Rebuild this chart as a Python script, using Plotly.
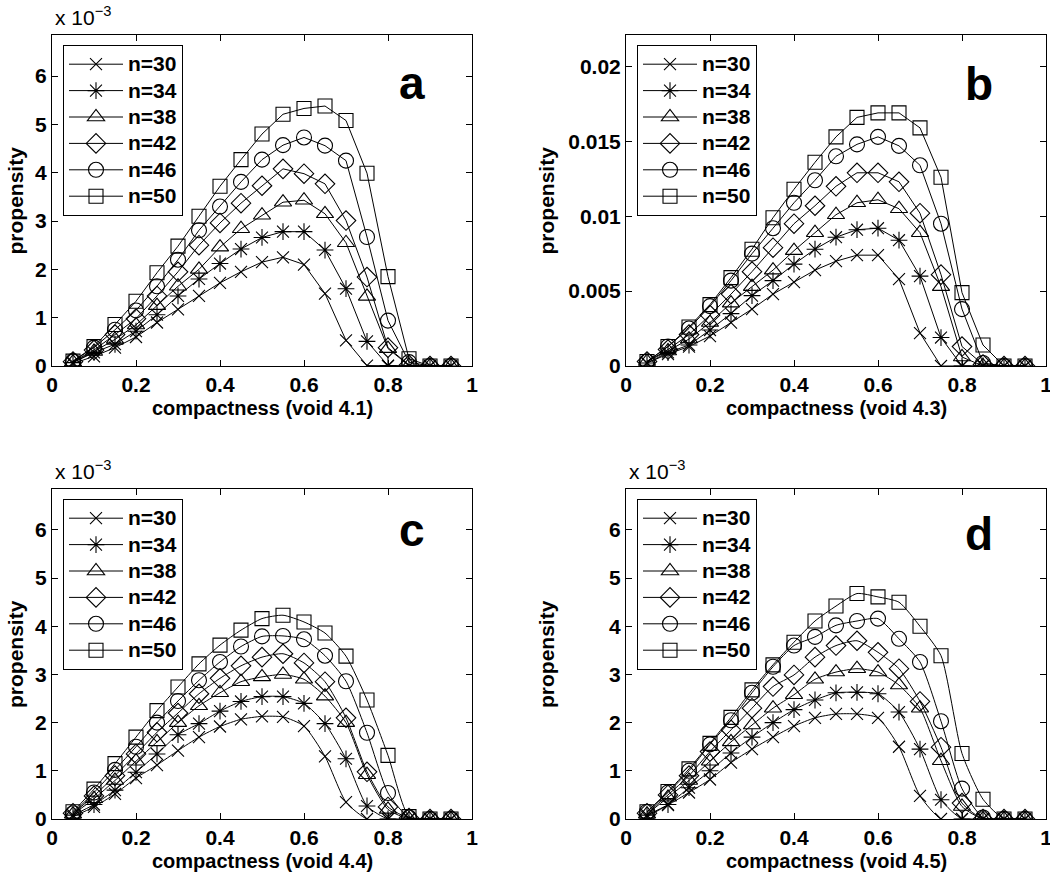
import plotly.graph_objects as go

# ---------------- data ----------------
compactness = [0.05, 0.10, 0.15, 0.20, 0.25, 0.30, 0.35, 0.40, 0.45, 0.50,
               0.55, 0.60, 0.65, 0.70, 0.75, 0.80, 0.85, 0.90, 0.95]
series_names = ["n=30", "n=34", "n=38", "n=42", "n=46", "n=50"]

# panel a (void 4.1), values x 10^-3
a_n30 = [0.05, 0.20, 0.38, 0.60, 0.90, 1.17, 1.45, 1.72, 1.95, 2.15, 2.25, 2.10, 1.50, 0.53, 0.01, 0, 0, 0, 0]
a_n34 = [0.07, 0.28, 0.45, 0.72, 1.06, 1.45, 1.80, 2.12, 2.42, 2.66, 2.78, 2.78, 2.40, 1.60, 0.51, 0.01, 0, 0, 0]
a_n38 = [0.08, 0.30, 0.55, 0.85, 1.25, 1.65, 2.00, 2.46, 2.84, 3.12, 3.39, 3.43, 3.15, 2.55, 1.44, 0.36, 0.01, 0, 0]
a_n42 = [0.09, 0.33, 0.65, 0.98, 1.45, 1.95, 2.50, 2.96, 3.37, 3.73, 4.08, 3.98, 3.77, 3.01, 1.84, 0.38, 0.02, 0, 0]
a_n46 = [0.10, 0.38, 0.75, 1.15, 1.65, 2.20, 2.81, 3.30, 3.81, 4.27, 4.57, 4.73, 4.56, 4.25, 2.67, 0.94, 0.08, 0, 0]
a_n50 = [0.10, 0.40, 0.86, 1.34, 1.93, 2.48, 3.10, 3.72, 4.27, 4.80, 5.21, 5.33, 5.38, 5.08, 3.99, 1.85, 0.15, 0, 0]

# panel b (void 4.3)
b_n30 = [0.0002, 0.0008, 0.0013, 0.0020, 0.0029, 0.0038, 0.0048, 0.0056, 0.0064, 0.0070, 0.0074, 0.0074, 0.0058, 0.0022, 0.0000, 0, 0, 0, 0]
b_n34 = [0.0002, 0.0009, 0.0014, 0.0024, 0.0035, 0.0047, 0.0057, 0.0068, 0.0078, 0.0086, 0.0091, 0.0092, 0.0084, 0.0060, 0.0019, 0.0000, 0, 0, 0]
b_n38 = [0.0003, 0.0010, 0.0018, 0.0029, 0.0042, 0.0053, 0.0064, 0.0077, 0.0089, 0.0101, 0.0109, 0.0111, 0.0105, 0.0089, 0.0053, 0.0006, 0.0000, 0, 0]
b_n42 = [0.0003, 0.0011, 0.0021, 0.0034, 0.0048, 0.0063, 0.0079, 0.0095, 0.0107, 0.0120, 0.0129, 0.0129, 0.0123, 0.0102, 0.0061, 0.0013, 0.0001, 0, 0]
b_n46 = [0.0003, 0.0013, 0.0025, 0.0040, 0.0057, 0.0075, 0.0092, 0.0109, 0.0124, 0.0140, 0.0148, 0.0153, 0.0147, 0.0134, 0.0095, 0.0038, 0.0002, 0, 0]
b_n50 = [0.0003, 0.0013, 0.0026, 0.0041, 0.0059, 0.0078, 0.0099, 0.0118, 0.0136, 0.0153, 0.0166, 0.0169, 0.0169, 0.0159, 0.0126, 0.0049, 0.0014, 0, 0]

# panel c (void 4.4), values x 10^-3
c_n30 = [0.05, 0.25, 0.52, 0.85, 1.12, 1.42, 1.70, 1.92, 2.07, 2.13, 2.12, 1.93, 1.30, 0.35, 0.00, 0, 0, 0, 0]
c_n34 = [0.08, 0.30, 0.60, 0.97, 1.35, 1.75, 1.98, 2.24, 2.44, 2.54, 2.54, 2.40, 1.98, 1.25, 0.27, 0.00, 0, 0, 0]
c_n38 = [0.10, 0.42, 0.80, 1.20, 1.60, 2.00, 2.35, 2.62, 2.85, 2.95, 3.00, 2.90, 2.55, 2.00, 0.92, 0.20, 0.00, 0, 0]
c_n42 = [0.12, 0.48, 0.90, 1.35, 1.80, 2.20, 2.60, 2.92, 3.18, 3.36, 3.43, 3.24, 2.85, 2.10, 0.98, 0.25, 0.02, 0, 0]
c_n46 = [0.12, 0.55, 1.02, 1.50, 2.00, 2.45, 2.88, 3.26, 3.58, 3.79, 3.80, 3.73, 3.39, 2.86, 1.79, 0.54, 0.03, 0, 0]
c_n50 = [0.15, 0.62, 1.15, 1.70, 2.25, 2.74, 3.22, 3.61, 3.92, 4.16, 4.23, 4.09, 3.86, 3.38, 2.47, 1.32, 0.05, 0, 0]

# panel d (void 4.5), values x 10^-3
d_n30 = [0.05, 0.29, 0.55, 0.82, 1.17, 1.45, 1.70, 1.93, 2.10, 2.18, 2.18, 2.10, 1.50, 0.48, 0.00, 0, 0, 0, 0]
d_n34 = [0.08, 0.30, 0.65, 1.00, 1.37, 1.70, 2.00, 2.27, 2.47, 2.62, 2.63, 2.60, 2.22, 1.45, 0.40, 0.00, 0, 0, 0]
d_n38 = [0.10, 0.45, 0.80, 1.20, 1.60, 1.95, 2.30, 2.58, 2.90, 3.05, 3.12, 3.05, 2.78, 2.30, 1.21, 0.26, 0.00, 0, 0]
d_n42 = [0.12, 0.50, 0.90, 1.40, 1.85, 2.30, 2.75, 2.99, 3.36, 3.60, 3.70, 3.46, 3.12, 2.44, 1.49, 0.33, 0.00, 0, 0]
d_n46 = [0.15, 0.55, 1.00, 1.55, 2.05, 2.62, 3.16, 3.60, 3.78, 4.02, 4.11, 4.16, 3.74, 3.26, 2.03, 0.63, 0.03, 0, 0]
d_n50 = [0.15, 0.57, 1.04, 1.57, 2.11, 2.68, 3.20, 3.67, 4.11, 4.42, 4.68, 4.61, 4.50, 4.00, 3.39, 1.36, 0.41, 0, 0]

x_ticks = [0, 0.2, 0.4, 0.6, 0.8, 1]
x_tick_labels = ["0", "0.2", "0.4", "0.6", "0.8", "1"]
milli_ticks = [0, 1, 2, 3, 4, 5, 6]
b_ticks = [0, 0.005, 0.01, 0.015, 0.02]
b_tick_labels = ["0", "0.005", "0.01", "0.015", "0.02"]
x_titles = ["compactness (void 4.1)", "compactness (void 4.3)",
            "compactness (void 4.4)", "compactness (void 4.5)"]
y_title = "propensity"
panel_letters = ["a", "b", "c", "d"]

# ---------------- style ----------------
W, H = 1050, 877
FONT = "Liberation Sans, Arial, Helvetica, sans-serif"
symbols = ["x-thin-open", "asterisk-open", "triangle-up-open",
           "diamond-open", "circle-open", "square-open"]
sizes = [12, 14, 15, 15, 15, 14]

# pixel boxes (left, right, top, bottom)
boxes = [(52, 472, 35, 366), (626, 1046, 35, 366),
         (52, 472, 489, 819), (626, 1046, 489, 819)]
ytitle_x = [15, 546, 15, 546]
letter_pos = [(412, 101), (979, 102), (412, 548), (979, 552)]  # centre x, baseline y

panels = [
    [a_n30, a_n34, a_n38, a_n42, a_n46, a_n50],
    [b_n30, b_n34, b_n38, b_n42, b_n46, b_n50],
    [c_n30, c_n34, c_n38, c_n42, c_n46, c_n50],
    [d_n30, d_n34, d_n38, d_n42, d_n46, d_n50],
]
y_ranges = [[0, 6.85], [0, 0.0221], [0, 6.85], [0, 6.85]]
shapes_line = ["linear", "linear", "spline", "spline"]

fig = go.Figure()

for p, series_set in enumerate(panels):
    suffix = "" if p == 0 else str(p + 1)
    legend_name = "legend" if p == 0 else "legend" + str(p + 1)
    for s, (name, vals) in enumerate(zip(series_names, series_set)):
        fig.add_trace(go.Scatter(
            x=compactness, y=vals,
            name="<span style='font-size:21px'>" + name + "</span>",
            mode="lines+markers",
            xaxis="x" + suffix, yaxis="y" + suffix, legend=legend_name,
            line=dict(color="black", width=1, shape=shapes_line[p], smoothing=0.6),
            marker=dict(symbol=symbols[s], size=sizes[s], color="black",
                        line=dict(color="black", width=1.1)),
        ))

layout = dict(
    width=W, height=H, margin=dict(l=0, r=0, t=0, b=0, autoexpand=False),
    paper_bgcolor="white", plot_bgcolor="white", showlegend=True,
    font=dict(family=FONT, size=20, color="black", weight="bold"),
    annotations=[],
)

for p, box in enumerate(boxes):
    l, r, t, b = box
    suffix = "" if p == 0 else str(p + 1)
    xd = [l / W, r / W]
    yd = [1 - b / H, 1 - t / H]
    axis_common = dict(showline=True, linecolor="black", linewidth=1,
                       mirror="ticks", ticks="inside", ticklen=6,
                       tickcolor="black", tickwidth=1, showgrid=False,
                       zeroline=False, automargin=False, ticklabeloverflow="allow",
                       tickfont=dict(family=FONT, size=21, color="black", weight="bold"))
    layout["xaxis" + suffix] = dict(
        domain=xd, range=[0, 1], tickvals=x_ticks, ticktext=x_tick_labels,
        anchor="y" + suffix, **axis_common)
    if p == 1:
        yt = dict(tickvals=b_ticks, ticktext=b_tick_labels)
    else:
        yt = dict(tickvals=milli_ticks, ticktext=[str(v) for v in milli_ticks])
    layout["yaxis" + suffix] = dict(
        domain=yd, range=y_ranges[p], anchor="x" + suffix, **yt, **axis_common)
    legend_name = "legend" if p == 0 else "legend" + str(p + 1)
    layout[legend_name] = dict(
        x=(l + 11) / W, y=1 - (t + 10) / H, xanchor="left", yanchor="top",
        bgcolor="white", bordercolor="black", borderwidth=1,
        font=dict(family=FONT, size=18, color="black", weight="bold"),
        itemwidth=54, tracegroupgap=0, traceorder="normal",
    )
    # axis titles
    layout["annotations"].append(dict(
        text=x_titles[p], xref="paper", yref="paper",
        x=(l + r) / 2 / W, y=1 - (b + 42) / H, xanchor="center", yanchor="middle",
        showarrow=False, font=dict(family=FONT, size=20, color="black", weight="bold")))
    layout["annotations"].append(dict(
        text=y_title, xref="paper", yref="paper", textangle=-90,
        x=ytitle_x[p] / W, y=1 - (t + b) / 2 / H, xanchor="center", yanchor="middle",
        showarrow=False, font=dict(family=FONT, size=21, color="black", weight="bold")))
    # panel letter
    lx, ly = letter_pos[p]
    layout["annotations"].append(dict(
        text=panel_letters[p], xref="paper", yref="paper",
        x=lx / W, y=1 - (ly + 10) / H, xanchor="center", yanchor="bottom",
        showarrow=False, font=dict(family=FONT, size=46, color="black", weight="bold")))
    # exponent label
    if p != 1:
        layout["annotations"].append(dict(
            text="x 10<sup>\u22123</sup>", xref="paper", yref="paper",
            x=(l + 1) / W, y=1 - (t - 4) / H, xanchor="left", yanchor="bottom",
            showarrow=False, font=dict(family=FONT, size=21, color="black", weight="normal")))

fig.update_layout(**layout)
fig.write_html("out.html", config={"displayModeBar": False},
               post_script="document.body.style.margin='0';document.body.style.overflow='hidden';")
